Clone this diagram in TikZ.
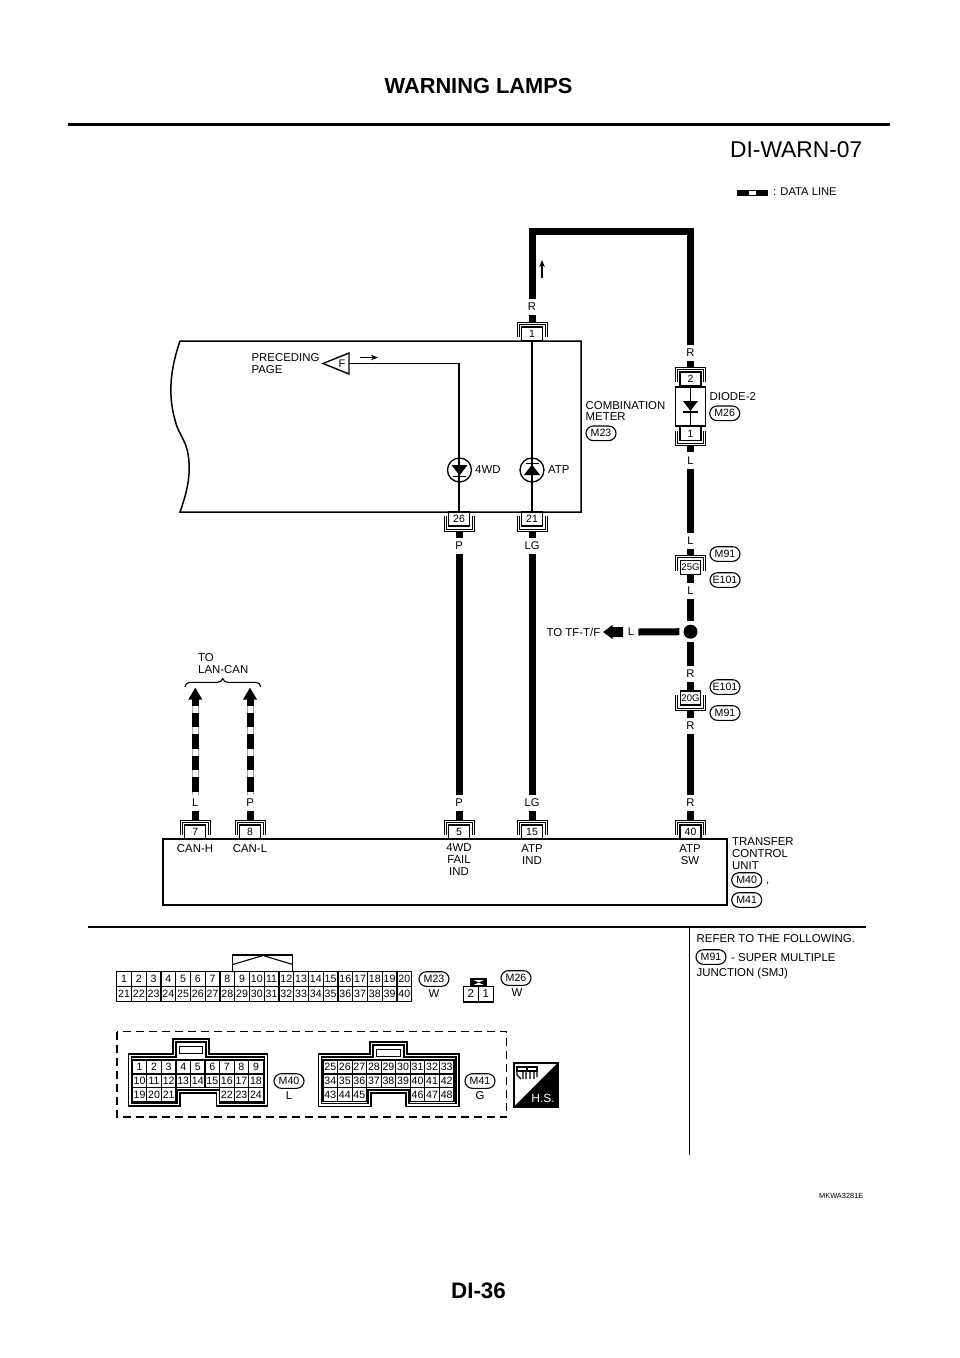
\documentclass[tikz,border=0pt]{standalone}
\usepackage{fontspec}
\setmainfont{Liberation Sans}
\usetikzlibrary{arrows.meta}
\newcommand{\fsz}[2][0]{\fontsize{#2}{\numexpr#1+0\relax}\selectfont}
\newcommand{\fszl}[2]{\fontsize{#1}{#2}\selectfont}
\tikzset{
  x=1pt,y=-1pt,
  wire/.style={line width=7pt,line cap=butt,line join=miter},
  thin wire/.style={line width=1.3pt},
  frame/.style={line width=1.5pt},
  txt/.style={font=\fszl{11.4}{11.8},inner sep=0pt,align=left},
  ctxt/.style={font=\fszl{11.4}{11.6},inner sep=0pt,align=center},
  lab/.style={font=\fszl{11.2}{12},inner xsep=4pt,inner ysep=0pt,minimum height=16pt},
  pinbox/.style={draw,line width=1.2pt,fill=white,font=\fszl{10.5}{12},inner sep=0pt,minimum width=21pt,minimum height=14pt},
  brk/.style={line width=0.9pt},
  oval/.style={draw,line width=1.1pt,rounded corners=7.3pt,font=\fszl{10.6}{12},inner sep=0pt,minimum width=30pt,minimum height=14.6pt},
  cellbox/.style={draw,line width=1.2pt,fill=white,font=\fszl{10.6}{12},inner sep=0pt,minimum width=14.7pt,minimum height=15pt},
  cellsm/.style={draw,line width=1.2pt,fill=white,font=\fszl{10.6}{12},inner sep=0pt,minimum width=14.55pt,minimum height=13.9pt},
  house/.style={line width=1.3pt,fill=white},
  smallarrow/.style={line width=1.2pt,-{Stealth[length=7pt,width=5.5pt]}}
}
% connector with bracket on top
\newcommand{\pinA}[5][21]{%
  \draw[brk] ({#3-15},{#4+3}) -- ({#3-15},{#4-12}) -- ({#3+15},{#4-12}) -- ({#3+15},{#4+3});
  \draw[brk] ({#3-13},{#4+3}) -- ({#3-13},{#4-10}) -- ({#3+13},{#4-10}) -- ({#3+13},{#4+3});
  \node[pinbox,minimum width=#1pt] (#2) at (#3,#4) {#5};
  \coordinate (#2b) at (#3,{#4-12});
}
% connector with bracket below
\newcommand{\pinB}[5][21]{%
  \draw[brk] ({#3-15},{#4-3}) -- ({#3-15},{#4+12}) -- ({#3+15},{#4+12}) -- ({#3+15},{#4-3});
  \draw[brk] ({#3-13},{#4-3}) -- ({#3-13},{#4+10}) -- ({#3+13},{#4+10}) -- ({#3+13},{#4-3});
  \node[pinbox,minimum width=#1pt] (#2) at (#3,#4) {#5};
  \coordinate (#2b) at (#3,{#4+12});
}
% housing of the connector faces
\newcommand{\housing}[9]{% x0 x1 ytop ybot tabL tabR tabTop nL nR ; notch y = 1093
  \draw[house] (#1,#3) -- (#5,#3) -- (#5,#7) -- (#6,#7) -- (#6,#3) -- (#2,#3) -- (#2,#4) -- (#9,#4) -- (#9,1093) -- (#8,1093) -- (#8,#4) -- (#1,#4) -- cycle;
  \draw[house] ({#1+3},{#3+3}) -- ({#5+3},{#3+3}) -- ({#5+3},{#7+3}) -- ({#6-3},{#7+3}) -- ({#6-3},{#3+3}) -- ({#2-3},{#3+3}) -- ({#2-3},{#4-3}) -- ({#9+3},{#4-3}) -- ({#9+3},1090) -- ({#8-3},1090) -- ({#8-3},{#4-3}) -- ({#1+3},{#4-3}) -- cycle;
  \draw[line width=1.6pt,fill=white] ({#5+6.5},{#7+7.5}) rectangle ({#6-6.5},{#7+14.5});
}
\begin{document}
\begin{tikzpicture}
\useasboundingbox (0,0) rectangle (960,1358);
\fill[white] (0,0) rectangle (960,1358);

% ---------- header / footer
\node[font=\bfseries\fszl{21.8}{24},inner sep=0pt] (title) at (478.5,86) {WARNING LAMPS};
\coordinate (hrl) at (68,124); \coordinate (hrr) at (890,124);
\draw[line width=3pt] (hrl) -- (hrr);
\node[font=\fszl{22.8}{24},inner sep=0pt,anchor=east] (code) at (862.5,149.5) {DI-WARN-07};
\node[font=\bfseries\fszl{22.4}{24},inner sep=0pt] (page) at (478.5,1291) {DI-36};
\node[font=\fszl{7.4}{8},inner sep=0pt,anchor=east] (mk) at (863.5,1196) {MKWA3281E};

% legend
\coordinate (lga) at (737,193); \coordinate (lgb) at (768,193);
\draw[line width=5.5pt] (lga) -- (lgb);
\fill[white] (749,191.2) rectangle (756,194.8);
\node[font=\fszl{11.2}{12},inner sep=0pt,anchor=west] (lgt) at (773,191.5) {: DATA LINE};

% ---------- combination meter frame
\draw[frame] (180,341) -- (581,341) -- (581,512) -- (180,512)
  .. controls (186,495) and (190,480) .. (189,463)
  .. controls (188,440) and (178,435) .. (175,420)
  .. controls (168,395) and (170,370) .. (180,341) -- cycle;

% meter connectors
\pinA{p1}{532}{334}{1}
\pinB{p26}{459}{519}{26}
\pinB{p21}{532}{519}{21}

% F flag and wire
\node[ctxt,font=\fszl{11}{12}] (flagF) at (342,363.5) {F};
\draw[line width=1.4pt,line join=miter] (323,363.5) -- (349,353) -- (349,374) -- cycle;
\coordinate (flagE) at (349,363.5);
\draw[thin wire] (flagE) -| (p26.north);
\node[txt] (prec) at (285.5,363.5) {PRECEDING\\PAGE};
\coordinate (fa) at (360,357.5); \coordinate (fb) at (378,357.5);
\draw[smallarrow] (fa) -- (fb);

% wire through ATP
\draw[thin wire] (p1.south) -- (p21.north);

% indicators
\node[draw,circle,line width=1.3pt,inner sep=0pt,minimum size=24pt] (led4) at (459.5,470) {};
\fill (451.5,465) -- (467.5,465) -- (459.5,475.5) -- cycle;
\draw[line width=1.2pt] (453,476.5) -- (466,476.5);
\node[txt,anchor=west] (t4wd) at (475,470) {4WD};
\node[draw,circle,line width=1.3pt,inner sep=0pt,minimum size=24pt] (ledA) at (532,470) {};
\fill (524,475) -- (540,475) -- (532,464.5) -- cycle;
\draw[line width=1.2pt] (525.5,463.5) -- (538.5,463.5);
\node[txt,anchor=west] (tatp) at (548,470) {ATP};

\node[txt] (tcm) at (625.5,411) {COMBINATION\\METER};
\node[oval] (ovM23) at (601,433.3) {M23};

% ---------- top wire
\node[lab] (lR1) at (532,307) {R};
\node[lab] (lR2) at (690.5,353) {R};
\coordinate (topc) at (690.5,231);
\draw[wire] (lR1.north) |- (topc) -- (lR2.north);
\draw[wire] (lR1.south) -- (p1b);
\coordinate (ua) at (542,278); \coordinate (ub) at (542,260);
\draw[smallarrow] (ua) -- (ub);

% ---------- diode
\pinA{p2}{690.5}{379}{2}
\pinB{pd1}{690.5}{433.5}{1}
\draw[wire] (lR2.south) -- (p2b);
\node[draw,line width=1.5pt,fill=white,inner sep=0pt,minimum width=30pt,minimum height=39pt] (diode) at (690.5,406.5) {};
\draw[thin wire] (diode.north) -- (diode.south);
\fill (683,401) -- (698,401) -- (690.5,411) -- cycle;
\draw[line width=1.2pt] (683,412) -- (698,412);
\node[txt,anchor=west] (tdiode) at (709.5,397) {DIODE-2};
\node[oval] (ovM26) at (724.7,413.3) {M26};

\node[lab] (lL1) at (690.5,460.5) {L};
\draw[wire] (pd1b) -- (lL1.north);
\node[lab] (lL2) at (690.5,541) {L};
\draw[wire] (lL1.south) -- (lL2.north);

% 25G
\pinA[20]{p25}{690.5}{567.5}{\fszl{9.6}{11}25G}
\draw[wire] (lL2.south) -- (p25b);
\node[lab] (lL3) at (690.5,591) {L};
\draw[wire] (p25.south) -- (lL3.north);
\node[oval] (ovM91a) at (725,554) {M91};
\node[oval] (ovE101a) at (725,580) {E101};

% junction
\node[circle,fill=black,inner sep=0pt,minimum size=14pt] (junc) at (690.5,631.7) {};
\draw[wire,shorten >=4pt] (lL3.south) -- (junc.north);
\node[lab] (lL4) at (631,632) {L};
\draw[wire,shorten >=4pt] (lL4.east) -- (junc.west);
\node[txt,anchor=east] (ttf) at (600.5,632) {TO TF-T/F};
\fill (603,632) -- (612.5,625) -- (612.5,627) -- (623,627) -- (623,637) -- (612.5,637) -- (612.5,639) -- cycle;

% 20G
\node[lab] (lR3) at (690.5,674) {R};
\draw[wire,shorten <=3pt] (junc.south) -- (lR3.north);
\pinB[20]{p20}{690.5}{698}{\fszl{9.6}{11}20G}
\draw[wire] (lR3.south) -- (p20.north);
\node[oval] (ovE101b) at (725,687) {E101};
\node[oval] (ovM91b) at (725,713) {M91};
\node[lab] (lR4) at (690.5,725.7) {R};
\draw[wire] (p20b) -- (lR4.north);
\node[lab] (lR5) at (690.5,803) {R};
\draw[wire] (lR4.south) -- (lR5.north);

% ---------- transfer control unit
\draw[frame] (163,839) rectangle (727,905);
\pinA{p7}{195.3}{832}{7}
\pinA{p8}{250}{832}{8}
\pinA{p5}{459}{832}{5}
\pinA{p15}{532}{832}{15}
\pinA{p40}{690.5}{832}{40}
\node[lab] (lL5) at (195.3,803) {L};
\node[lab] (lP5) at (250,803) {P};
\node[lab] (lP6) at (459,803) {P};
\node[lab] (lG6) at (532,803) {LG};
\draw[wire] (lL5.south) -- (p7b);
\draw[wire] (lP5.south) -- (p8b);
\draw[wire] (lP6.south) -- (p5b);
\draw[wire] (lG6.south) -- (p15b);
\draw[wire] (lR5.south) -- (p40b);

% P and LG wires
\node[lab] (lP7) at (459,546) {P};
\node[lab] (lG7) at (532,546) {LG};
\draw[wire] (p26b) -- (lP7.north);
\draw[wire] (p21b) -- (lG7.north);
\draw[wire] (lP7.south) -- (lP6.north);
\draw[wire] (lG7.south) -- (lG6.north);

% data lines
\coordinate (h7) at (195.3,699); \coordinate (h8) at (250,699);
\foreach \nm/\xx in {lL5/195.3,lP5/250}{
  \draw[line width=7pt,gray!70] (\nm.north) -- (\xx,699);
  \draw[line width=5pt,white] (\nm.north) -- (\xx,699);
  \draw[line width=7pt,dash pattern=on 14.5pt off 7pt,dash phase=18.5pt] (\nm.north) -- (\xx,699);
  \fill ({\xx-7},699.5) -- (\xx,687.7) -- ({\xx+7},699.5) -- cycle;
}
% brace
\draw[line width=1.1pt] (185,687) .. controls (185,684) and (187,682.4) .. (190,682.4) -- (217,682.4)
  .. controls (220,682.4) and (222,681) .. (222.7,678.5)
  .. controls (223.4,681) and (225.4,682.4) .. (228.4,682.4) -- (255.7,682.4)
  .. controls (258.7,682.4) and (260.7,684) .. (260.7,687);
\node[txt,anchor=west] (tolan) at (198,663.5) {TO\\LAN-CAN};

% unit texts
\node[ctxt] (tcanh) at (195,849) {CAN-H};
\node[ctxt] (tcanl) at (250,849) {CAN-L};
\node[ctxt] (t4wdf) at (459,859.5) {4WD\\FAIL\\IND};
\node[ctxt] (tatpi) at (532,854.5) {ATP\\IND};
\node[ctxt] (tatps) at (690,854.5) {ATP\\SW};
\node[txt,anchor=west] (ttcu) at (732,853.5) {TRANSFER\\CONTROL\\UNIT};
\node[oval] (ovM40a) at (746.7,880) {M40};
\node[txt,anchor=west] (tcomma) at (766,884) {,};
\node[oval] (ovM41a) at (746.7,900) {M41};

% ---------- lower section rules
\coordinate (sepL) at (88,927); \coordinate (sepR) at (866,927);
\draw[line width=1.6pt] (sepL) -- (sepR);
\coordinate (vtop) at (689.5,927); \coordinate (vbot) at (689.5,1155);
\draw[line width=1.6pt] (vtop) -- (vbot);
\node[txt,anchor=west] (trefer) at (696.5,939) {REFER TO THE FOLLOWING.};
\node[oval] (ovM91c) at (711,957) {M91};
\node[txt,anchor=west] (tsuper) at (731,957.5) {- SUPER MULTIPLE};
\node[txt,anchor=west] (tjunc) at (696.5,974) {JUNCTION (SMJ)};

% ---------- M23 face
\draw[line width=1.3pt] (232.7,972) -- (232.7,955) -- (292.7,955) -- (292.7,972);
\draw[line width=1.1pt] (232.7,964.5) -- (263,955.5) -- (292.7,964.5);
\foreach \c in {1,...,20}{
  \pgfmathtruncatemacro{\d}{\c+20}
  \node[cellbox] (a\c) at ({116.7+(\c-0.5)*14.75},979.2) {\c};
  \node[cellbox] (a\d) at ({116.7+(\c-0.5)*14.75},994.2) {\d};
}
\draw[line width=1.5pt] (116.7,971.7) rectangle (411.7,1001.7);
\node[oval] (ovM23b) at (434,979) {M23};
\node[ctxt] (tw1) at (434,994) {W};

% ---------- M26 face
\node[draw,line width=1.3pt,fill=white,inner sep=0pt,minimum width=15pt,minimum height=15.7pt,font=\fszl{11.4}{12}] (b2) at (470.8,994) {2};
\node[draw,line width=1.3pt,fill=white,inner sep=0pt,minimum width=15pt,minimum height=15.7pt,font=\fszl{11.4}{12}] (b1) at (485.8,994) {1};
\draw[line width=1.2pt] (471,979) rectangle (486.5,986);
\fill (471,979) -- (478.7,982.5) -- (486.5,979) -- (486.5,986) -- (478.7,982.5) -- (471,986) -- cycle;
\node[oval] (ovM26b) at (516,978) {M26};
\node[ctxt] (tw2) at (517,993) {W};

% ---------- dashed frame
\draw[line width=1.5pt,dash pattern=on 8pt off 5pt] (117,1031.7) rectangle (506.7,1117);

% ---------- M40 face
\housing{128.3}{267.7}{1054}{1106}{173}{209}{1039}{180}{216.7}
\foreach \n [count=\i from 0] in {1,...,9}{
  \pgfmathtruncatemacro{\d}{\n+9}
  \node[cellsm] (c\n) at ({132.3+(\i+0.5)*14.55},1067) {\n};
  \node[cellsm] (c\d) at ({132.3+(\i+0.5)*14.55},1080.9) {\d};
}
\foreach \n/\i in {19/0,20/1,21/2,22/6,23/7,24/8}{
  \node[cellsm] (c\n) at ({132.3+(\i+0.5)*14.55},1094.8) {\n};
}
\node[oval] (ovM40b) at (289,1081) {M40};
\node[ctxt] (tl) at (289,1096) {L};

% ---------- M41 face
\housing{318.3}{459}{1054}{1106.7}{370}{407}{1042}{371}{406}
\foreach \n [count=\i from 0] in {25,...,33}{
  \pgfmathtruncatemacro{\d}{\n+9}
  \node[cellsm] (e\n) at ({323+(\i+0.5)*14.55},1067) {\n};
  \node[cellsm] (e\d) at ({323+(\i+0.5)*14.55},1080.9) {\d};
}
\foreach \n/\i in {43/0,44/1,45/2,46/6,47/7,48/8}{
  \node[cellsm] (e\n) at ({323+(\i+0.5)*14.55},1094.8) {\n};
}
\node[oval] (ovM41b) at (480,1081) {M41};
\node[ctxt] (tg) at (480,1096) {G};

% ---------- H.S. mark
\fill[white] (514,1063) rectangle (557.7,1106.7);
\fill (557.7,1063) -- (557.7,1106.7) -- (514,1106.7) -- cycle;
\draw[line width=1.6pt] (514,1063) rectangle (557.7,1106.7);
\node[font=\fszl{12}{13},text=white,inner sep=0pt] (ths) at (543,1098) {H.S.};
\draw[line width=1.1pt] (517,1067) rectangle (527,1071) (527,1067) rectangle (537,1071);
\draw[line width=1.2pt] (517,1071) -- (517,1075) -- (521,1079) (523,1071) -- (523,1079) (526,1079) -- (526,1071)
  (530,1071) -- (530,1079) (534,1079) -- (534,1071) (537,1071) -- (537,1077);
\end{tikzpicture}
\end{document}
